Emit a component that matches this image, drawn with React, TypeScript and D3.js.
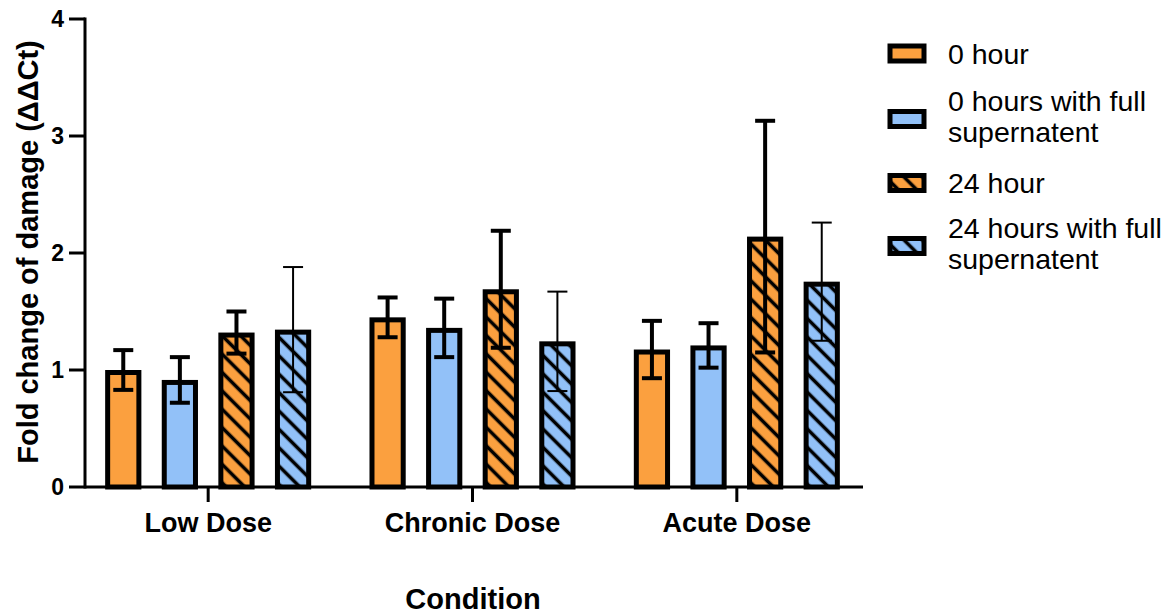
import React, { useEffect, useRef } from 'react';
import * as d3 from 'd3';

const categories = ['Low Dose', 'Chronic Dose', 'Acute Dose'];
const seriesNames = ['0 hour', '0 hours with full supernatent', '24 hour', '24 hours with full supernatent'];
// legend labels split on two lines like the original
const legendLines = [['0 hour'], ['0 hours with full', 'supernatent'], ['24 hour'], ['24 hours with full', 'supernatent']];

// mean per category, one array per series
const zeroHour = [1.0, 1.45, 1.175];
const zeroHourSup = [0.915, 1.36, 1.21];
const dayHour = [1.32, 1.69, 2.14];
const dayHourSup = [1.345, 1.245, 1.755];

// error (symmetric) per category
const zeroHourErr = [0.17, 0.17, 0.245];
const zeroHourSupErr = [0.195, 0.25, 0.19];
const dayHourErr = [0.18, 0.5, 0.99];
const dayHourSupErr = [0.535, 0.425, 0.505];

const yTicks = [0, 1, 2, 3, 4];

const W = 1174;
const H = 615;
const FONT = "Arial, 'Liberation Sans', sans-serif";
const ORANGE = '#FBA03F';
const BLUE = '#92C1F8';
const BAR_SW = 5;

const App = () => {
  const svgRef = useRef<SVGSVGElement>(null);

  useEffect(() => {
    const svg = d3.select(svgRef.current);
    svg.selectAll('*').remove();

    const means = [zeroHour, zeroHourSup, dayHour, dayHourSup];
    const errs = [zeroHourErr, zeroHourSupErr, dayHourErr, dayHourSupErr];
    const fills = [ORANGE, BLUE, ORANGE, BLUE];
    const hatched = [false, false, true, true];

    const rows = categories.flatMap((c, ci) =>
      seriesNames.map((s, si) => ({ cat: c, s, si, v: means[si][ci], e: errs[si][ci] }))
    );

    const y = d3.scaleLinear().domain([0, 4]).range([487, 19]);
    const x0 = d3.scaleBand().domain(categories).range([76, 869]);
    const x1 = d3.scaleBand().domain(seriesNames).range([-113.2, 113.2]).paddingInner(0.36).paddingOuter(0.18);

    // hatch pattern: "\" lines
    const defs = svg.append('defs');
    defs.append('pattern')
      .attr('id', 'hatch')
      .attr('patternUnits', 'userSpaceOnUse')
      .attr('width', 13)
      .attr('height', 13)
      .attr('patternTransform', 'rotate(45)')
      .append('line')
      .attr('x1', 0).attr('x2', 13)
      .attr('y1', 6.5).attr('y2', 6.5)
      .attr('stroke', '#000')
      .attr('stroke-width', 3.6);

    const g = svg.append('g');

    // bars (border drawn inside the bar's extent)
    const bar = g.selectAll('g.bar')
      .data(rows)
      .join('g')
      .attr('class', 'bar')
      .attr('transform', d => `translate(${x0(d.cat)! + x0.bandwidth() / 2},0)`);

    const inset = (sel: any) => sel
      .attr('x', (d: any) => x1(d.s)! + BAR_SW / 2)
      .attr('width', x1.bandwidth() - BAR_SW)
      .attr('y', (d: any) => y(d.v) + BAR_SW / 2)
      .attr('height', (d: any) => y(0) - y(d.v) - BAR_SW / 2);

    bar.append('rect').call(inset).attr('fill', d => fills[d.si]);
    bar.filter(d => hatched[d.si]).append('rect').call(inset).attr('fill', 'url(#hatch)');
    bar.append('rect').call(inset)
      .attr('fill', 'none')
      .attr('stroke', '#000')
      .attr('stroke-width', BAR_SW);

    // error bars
    const eb = bar.append('g')
      .attr('stroke', '#000')
      .attr('stroke-width', d => (d.si === 3 ? 2 : 4))
      .attr('transform', d => `translate(${x1(d.s)! + x1.bandwidth() / 2},0)`);
    eb.append('line')
      .attr('y1', d => y(d.v + d.e))
      .attr('y2', d => y(d.v - d.e));
    eb.append('line')
      .attr('x1', -10).attr('x2', 10)
      .attr('y1', d => y(d.v + d.e)).attr('y2', d => y(d.v + d.e));
    eb.append('line')
      .attr('x1', -10).attr('x2', 10)
      .attr('y1', d => y(d.v - d.e)).attr('y2', d => y(d.v - d.e));

    // y axis
    const axisG = svg.append('g').attr('stroke', '#000').attr('stroke-width', 3);
    axisG.append('line').attr('x1', 85).attr('x2', 85).attr('y1', y(4) - 1.5).attr('y2', y(0) + 1.5);
    axisG.selectAll('line.ytick')
      .data(yTicks)
      .join('line')
      .attr('class', 'ytick')
      .attr('x1', 69).attr('x2', 85)
      .attr('y1', d => y(d)).attr('y2', d => y(d));

    svg.append('g')
      .selectAll('text')
      .data(yTicks)
      .join('text')
      .attr('x', 64)
      .attr('y', d => y(d))
      .attr('dy', '0.36em')
      .attr('text-anchor', 'end')
      .style('font-family', FONT)
      .style('font-weight', 'bold')
      .style('font-size', '23px')
      .text(d => d);

    // x axis
    axisG.append('line').attr('x1', 85).attr('x2', 863).attr('y1', y(0)).attr('y2', y(0));
    axisG.selectAll('line.xtick')
      .data(categories)
      .join('line')
      .attr('class', 'xtick')
      .attr('x1', d => x0(d)! + x0.bandwidth() / 2)
      .attr('x2', d => x0(d)! + x0.bandwidth() / 2)
      .attr('y1', y(0)).attr('y2', y(0) + 15);

    svg.append('g')
      .selectAll('text')
      .data(categories)
      .join('text')
      .attr('x', d => x0(d)! + x0.bandwidth() / 2)
      .attr('y', 532)
      .attr('text-anchor', 'middle')
      .style('font-family', FONT)
      .style('font-weight', 'bold')
      .style('font-size', '27px')
      .text(d => d);

    // axis titles
    svg.append('text')
      .attr('transform', 'translate(38,252) rotate(-90)')
      .attr('text-anchor', 'middle')
      .style('font-family', FONT)
      .style('font-weight', 'bold')
      .style('font-size', '29px')
      .text('Fold change of damage (ΔΔCt)');

    svg.append('text')
      .attr('x', 473)
      .attr('y', 609)
      .attr('text-anchor', 'middle')
      .style('font-family', FONT)
      .style('font-weight', 'bold')
      .style('font-size', '29px')
      .text('Condition');

    // legend
    const legendY = [53.5, 119, 183, 246];
    const leg = svg.append('g')
      .selectAll('g')
      .data(seriesNames)
      .join('g')
      .attr('transform', (d, i) => `translate(0,${legendY[i]})`);

    leg.append('rect')
      .attr('x', 890).attr('y', -7.5).attr('width', 34).attr('height', 15)
      .attr('fill', (d, i) => fills[i]);
    leg.filter((d, i) => hatched[i]).append('rect')
      .attr('x', 890).attr('y', -7.5).attr('width', 34).attr('height', 15)
      .attr('fill', 'url(#hatch)');
    leg.append('rect')
      .attr('x', 890).attr('y', -7.5).attr('width', 34).attr('height', 15)
      .attr('fill', 'none').attr('stroke', '#000').attr('stroke-width', 5);

    leg.append('text')
      .style('font-family', FONT)
      .style('font-size', '28.5px')
      .each(function (d, i) {
        const t = d3.select(this);
        const lines = legendLines[i];
        lines.forEach((ln, k) => {
          t.append('tspan')
            .attr('x', 948)
            .attr('y', lines.length === 1 ? 10 : -8 + k * 31)
            .text(ln);
        });
      });
  }, []);

  return (
    <svg
      ref={svgRef}
      width={W}
      height={H}
      style={{ position: 'absolute', left: 0, top: 0, background: '#fff' }}
    />
  );
};

export default App;
